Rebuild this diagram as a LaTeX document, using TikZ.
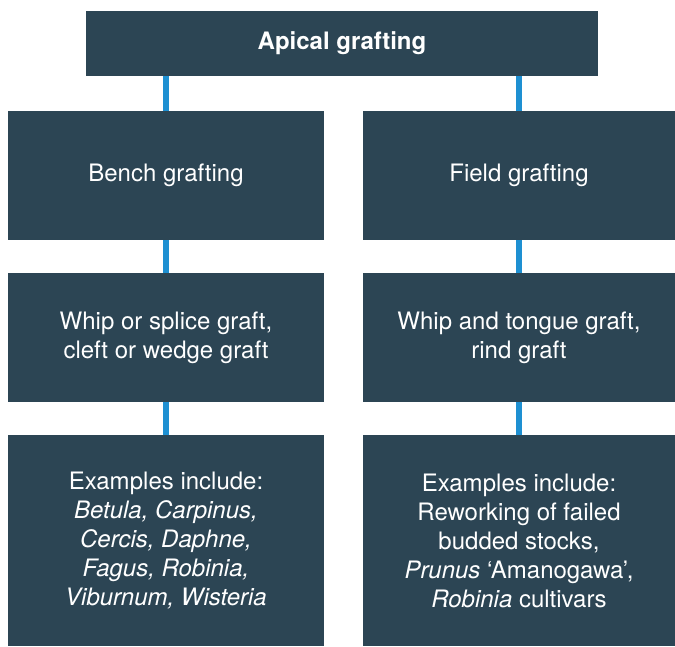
\documentclass[tikz,border=0pt]{standalone}
\usepackage{fontspec}
\setmainfont{TeX Gyre Heros}
\definecolor{slate}{RGB}{44,69,84}
\definecolor{linkblue}{RGB}{30,144,210}

\begin{document}
\begin{tikzpicture}[x=1pt,y=-1pt,
    box/.style={fill=slate,text=white,inner sep=0pt,outer sep=0pt,align=center,
      font=\fontsize{24}{29}\selectfont},
    link/.style={draw=linkblue,line width=6pt}]

    \useasboundingbox (0,0) rectangle (675,646);

    \node[box,minimum width=512pt,minimum height=65pt,font=\fontsize{24}{29}\selectfont\bfseries] (apical) at (342,43.5) {Apical grafting};

    \node[box,minimum width=316pt,minimum height=129pt] (bench) at (166,175.5) {Bench grafting};
    \node[box,minimum width=312pt,minimum height=129pt] (field) at (519,175.5) {Field grafting};

    \node[box,minimum width=316pt,minimum height=129pt] (bench_2) at (166,337.5) {Whip or splice graft,\\ cleft or wedge graft};
    \node[box,minimum width=312pt,minimum height=129pt] (field_2) at (519,337.5) {Whip and tongue graft,\\ rind graft};

    \node[box,minimum width=316pt,minimum height=211pt] (bench_3) at (166,540.5) {Examples include:\\ \textit{Betula, Carpinus,}\\ \textit{Cercis, Daphne,}\\ \textit{Fagus, Robinia,}\\ \textit{Viburnum, Wisteria}};
    \node[box,minimum width=312pt,minimum height=211pt] (field_3) at (519,540.5) {Examples include:\\ Reworking of failed\\ budded stocks,\\ \textit{Prunus} `Amanogawa',\\ \textit{Robinia} cultivars};

    \path (bench.north |- apical.south) edge[link] (bench.north);
    \path (field.north |- apical.south) edge[link] (field.north);

    \path (bench.south) edge[link] (bench_2.north);
    \path (field.south) edge[link] (field_2.north);

    \path (bench_2.south) edge[link] (bench_3.north);
    \path (field_2.south) edge[link] (field_3.north);

  \end{tikzpicture}
\end{document}
